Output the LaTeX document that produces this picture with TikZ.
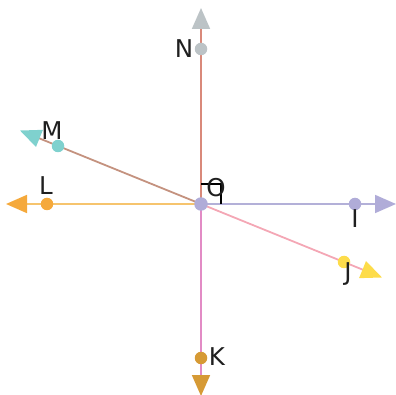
\documentclass[tikz,border=0pt]{standalone}
\usepackage{fontspec}
\setmainfont{DejaVu Sans}
\usetikzlibrary{arrows.meta}
\definecolor{cNl}{HTML}{D9897A}\definecolor{cNd}{HTML}{BCC3C6}
\definecolor{cIl}{HTML}{B3B0D8}\definecolor{cId}{HTML}{B0ACD8}
\definecolor{cJl}{HTML}{F4A7B5}\definecolor{cJd}{HTML}{FDDC4A}
\definecolor{cKl}{HTML}{E28BC5}\definecolor{cKd}{HTML}{D69A35}
\definecolor{cLl}{HTML}{F6C46E}\definecolor{cLd}{HTML}{F5A93B}
\definecolor{cMl}{HTML}{C4927F}\definecolor{cMd}{HTML}{7FD1CE}
\definecolor{cOd}{HTML}{B0ACD8}
\tikzset{
  ray/.style={line width=1.8pt},
  tipof/.style={-{Triangle[length=21pt,width=18pt,color=#1]}},
  dot/.style={circle,inner sep=0pt,minimum size=12.5pt,fill=#1},
  lbl/.style={font=\fontsize{24.5pt}{24.5pt}\selectfont,text=black!88,inner sep=0pt}
}
\begin{document}
\begin{tikzpicture}[x=1pt,y=-1pt]
\useasboundingbox (0,0) rectangle (396,395);
\coordinate (O) at (201,204);
\coordinate (tN) at (201,8);
\coordinate (tI) at (396,204);
\coordinate (tJ) at (382,277.5);
\coordinate (tK) at (201,396);
\coordinate (tL) at (6,204);
\coordinate (tM) at (20,130.5);
\draw[ray,cNl,tipof=cNd] (O) -- (tN);
\draw[ray,cIl,tipof=cId] (O) -- (tI);
\draw[ray,cJl,tipof=cJd] (O) -- (tJ);
\draw[ray,cKl,tipof=cKd] (O) -- (tK);
\draw[ray,cLl,tipof=cLd] (O) -- (tL);
\draw[ray,cMl,tipof=cMd] (O) -- (tM);
\coordinate (ra1) at (201,184.5);
\coordinate (ra2) at (220.5,184.5);
\coordinate (ra3) at (220.5,204);
\draw[line width=2pt,black] (ra1) -- (ra2) -- (ra3);
\node[dot=cNd] (N) at (201,49) {};
\node[dot=cId] (I) at (355,204) {};
\node[dot=cJd] (J) at (344,262) {};
\node[dot=cKd] (K) at (201,358) {};
\node[dot=cLd] (L) at (47,204) {};
\node[dot=cMd] (M) at (58,146) {};
\node[dot=cOd,minimum size=13.5pt] (Od) at (O) {};
\node[lbl] (lN) at (184,49) {N};
\node[lbl] (lI) at (355,219) {I};
\node[lbl] (lJ) at (348,274) {J};
\node[lbl] (lK) at (217,357) {K};
\node[lbl] (lL) at (46,186) {L};
\node[lbl] (lM) at (52,131) {M};
\node[lbl] (lO) at (216,188) {O};
\end{tikzpicture}
\end{document}
